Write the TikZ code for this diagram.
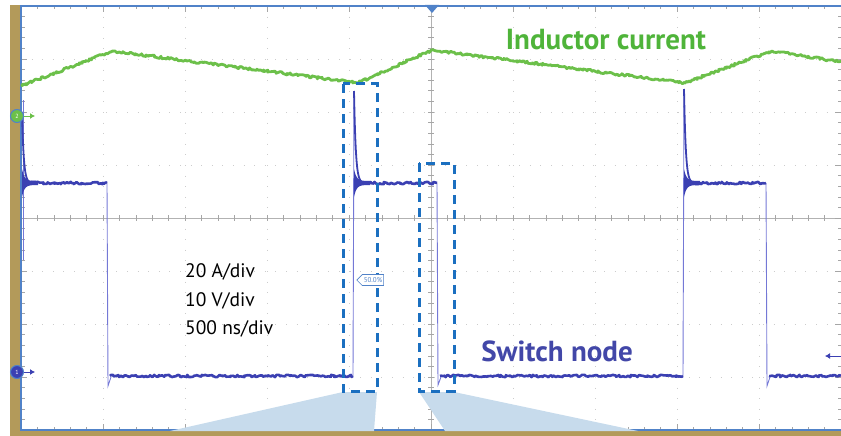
\documentclass[tikz,border=0pt]{standalone}
\usepackage{fontspec}
\setmainfont{PT Sans}
\usetikzlibrary{arrows.meta,decorations.pathmorphing,shapes.symbols}
\definecolor{scopegold}{HTML}{B39A5A}
\definecolor{frameblue}{HTML}{5082C8}
\definecolor{trgreen}{HTML}{6CC04A}
\definecolor{txgreen}{HTML}{4FB43A}
\definecolor{swblue}{HTML}{3B40B2}
\definecolor{edgeblue}{HTML}{7478D6}
\definecolor{txblue}{HTML}{4247A8}
\definecolor{boxblue}{HTML}{1B6FC0}
\definecolor{zoomfill}{HTML}{C7DBEC}

\begin{document}
\begin{tikzpicture}[x=1pt,y=-1pt,
  griddot/.style={gray!40, line width=0.7pt, dash pattern=on 1pt off 9.6pt},
  tick/.style={gray!70, line width=0.6pt},
  noisy/.style={decorate, decoration={random steps, segment length=1.5pt, amplitude=1.2pt}, line join=round},
  sw/.style={swblue, line width=2.6pt, noisy},
  il/.style={trgreen, line width=2.8pt, noisy},
  swedge/.style={edgeblue, line width=0.9pt},
  zoombox/.style={boxblue, line width=3pt, dash pattern=on 9pt off 6pt},
  chmark/.style={circle, draw=frameblue, line width=1pt, inner sep=0pt, minimum size=13pt, text=white, font=\fontsize{6}{6}\selectfont},
  marker/.style={-{Latex[length=5pt,width=6pt]}, line width=1pt},
  divtext/.style={anchor=base west, inner sep=0pt, font=\fontsize{19.5}{24}\selectfont}]
\useasboundingbox (0,0) rectangle (841,436);
% screen frame
\fill[scopegold] (10,5) rectangle (21,436);
\fill[scopegold] (21,431) rectangle (841,436);
\foreach \i in {1,...,9} \draw[griddot] ({21+82*\i},6) -- ({21+82*\i},430);
\foreach \j in {1,...,7} \draw[griddot] (21,{6+53*\j}) -- (841,{6+53*\j});
\draw[gray!60, line width=0.6pt] (431,6) -- (431,430) (21,218) -- (841,218);
\foreach \k in {1,...,49} {
  \pgfmathsetmacro{\tl}{mod(\k,5)==0 ? 6 : 3.5}
  \draw[tick] ({21+16.4*\k},6) -- ++(0,\tl) ({21+16.4*\k},430) -- ++(0,-\tl)
    ({21+16.4*\k},215) -- ++(0,6);
}
\foreach \k in {1,...,39} {
  \pgfmathsetmacro{\tl}{mod(\k,5)==0 ? 6 : 3.5}
  \draw[tick] (21,{6+10.6*\k}) -- ++(\tl,0) (841,{6+10.6*\k}) -- ++(-\tl,0)
    (428,{6+10.6*\k}) -- ++(6,0);
}
\draw[frameblue, line width=2.5pt] (841,6) -- (21,6) -- (21,430) -- (841,430);
\fill[frameblue] (425,5) -- (439,5) -- (432,13) -- cycle;
% zoom fans
\fill[zoomfill] (343,392) -- (377,392) -- (374,431) -- (170,431) -- cycle;
\fill[zoomfill] (419,392) -- (454,392) -- (638,431) -- (445,431) -- cycle;
% inductor current
\draw[il] (21,86) -- (112,51) -- (358,83) -- (432,50) -- (685,83) -- (772,51) -- (841,62);
% switch node
\draw[swedge] (23,100) -- (23,260);
\draw[swedge] (107,183) -- (108,386) -- (111,377);
\draw[swedge] (353,376) -- (354,92);
\draw[swedge] (437,183) -- (438,385) -- (441,377);
\draw[swedge] (683,376) -- (684,90);
\draw[swedge] (766,183) -- (767,386) -- (770,377);
\draw[sw] (28,183) -- (107,183);
\draw[sw] (110,376) -- (353,376);
\draw[sw] (362,183) -- (437,183);
\draw[sw] (440,376) -- (683,376);
\draw[sw] (692,183) -- (766,183);
\draw[sw] (769,376) -- (841,376);
\foreach \sx/\amp in {22/70, 354/92, 684/94} {
  \fill[swblue] plot[domain=0:16, samples=30] ({\sx+\x},{181-12*exp(-\x/2.5)})
    -- plot[domain=16:0, samples=30] ({\sx+\x},{185+12*exp(-\x/2.5)}) -- cycle;
  \draw[swblue, line width=1.8pt] plot[domain=0:12, samples=50] ({\sx+\x},{183-\amp*exp(-\x/1.8)});
}
% zoom boxes
\draw[zoombox] (343,84) rectangle (377,391);
\draw[zoombox] (419,163) rectangle (454,391);
% markers
\node[chmark, fill=trgreen] (ch2) at (17,116) {2};
\coordinate (ch2tip) at (35,116);
\draw[marker, trgreen] (ch2) -- (ch2tip);
\node[chmark, fill=swblue] (ch1) at (17,372) {1};
\coordinate (ch1tip) at (35,372);
\draw[marker, swblue] (ch1) -- (ch1tip);
\coordinate (trgR) at (841,356);
\coordinate (trgtip) at (825,356);
\draw[marker, swblue] (trgR) -- (trgtip);
\node[signal, signal to=west, draw=frameblue, fill=white, text=frameblue, line width=0.6pt,
  inner sep=1.5pt, minimum height=11pt, font=\fontsize{7}{7}\selectfont] (level) at (373,280) {50.0\%};
% labels
\node[text=txgreen, font=\fontsize{29}{32}\selectfont\bfseries] (ilabel) at (606,40) {Inductor current};
\node[text=txblue, font=\fontsize{29}{32}\selectfont\bfseries] (swlabel) at (557,351) {Switch node};
\node[divtext] (divA) at (185,277) {20 A/div};
\node[divtext] (divV) at (185,306) {10 V/div};
\node[divtext] (divT) at (185,334) {500 ns/div};
\end{tikzpicture}
\end{document}
